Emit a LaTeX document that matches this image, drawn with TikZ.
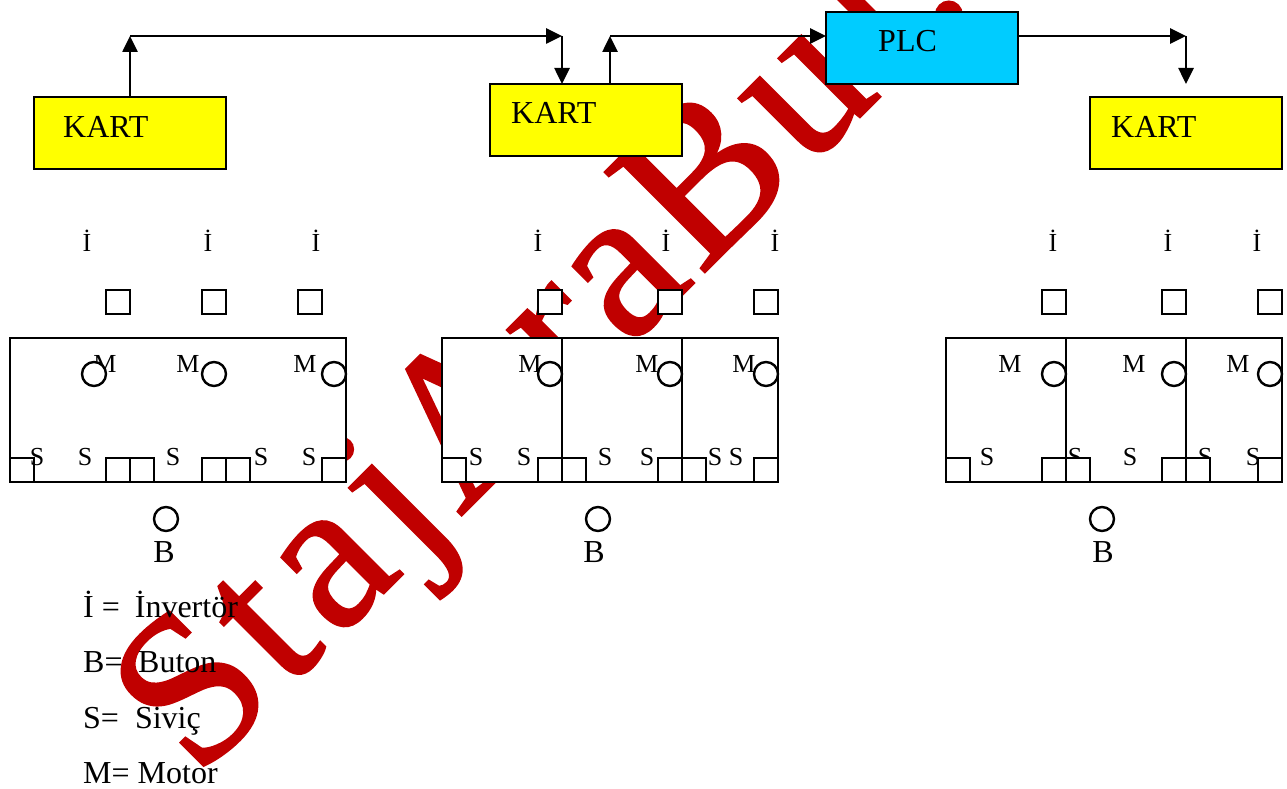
\documentclass[tikz,border=0pt]{standalone}
\usepackage{fontspec}
\setmainfont{Liberation Serif}
\newfontfamily\stampfont[Kerning=Off,FakeBold=1]{Liberation Serif}
\usetikzlibrary{arrows.meta}
\definecolor{stampred}{HTML}{C00000}
\definecolor{plcblue}{HTML}{00CCFF}
\definecolor{kartyellow}{HTML}{FFFF00}
\tikzset{
    wire/.style={line width=2.6pt, -{Triangle[length=16pt,width=15pt]}},
    cardbox/.style={draw, line width=2.6pt, fill=#1, minimum width=192pt, minimum height=72pt, inner sep=0pt, outer sep=0pt},
    panel/.style={draw, line width=2.4pt, fill=white, minimum height=144pt, inner sep=0pt, outer sep=0pt},
    sq/.style={draw, line width=2.4pt, fill=white, minimum size=24pt, inner sep=0pt, outer sep=0pt},
    disc/.style={draw, circle, line width=2.4pt, fill=white, minimum size=24pt, inner sep=0pt, outer sep=0pt},
    tag/.style={anchor=base, inner sep=0pt, font=\fontsize{26}{28}\selectfont},
    bigtag/.style={anchor=base west, inner sep=0pt, font=\fontsize{32}{34}\selectfont},
    legend/.style={anchor=base west, inner sep=0pt, font=\fontsize{32}{34}\selectfont}
}
\begin{document}
\begin{tikzpicture}[x=1pt, y=-1pt]
    \useasboundingbox (0,0) rectangle (1287,789);
    \clip (0,0) rectangle (1287,789);
    % stamp behind everything
    \node [anchor=base west, inner sep=0pt, rotate=45, text=stampred, font=\stampfont\fontsize{216}{220}\selectfont] (stamp) at (197,780) {S\kern6pt t\kern12pt a\kern12pt j\kern6pt A\kern5pt r\kern5pt a\kern6pt B\kern6pt u\kern14pt l\kern2pt .};
    % cards
    \node [cardbox=kartyellow] (kart1) at (130,133) {};
    \node [cardbox=kartyellow] (kart2) at (586,120) {};
    \node [cardbox=plcblue] (plc) at (922,48) {};
    \node [cardbox=kartyellow] (kart3) at (1186,133) {};
    \node [bigtag] (kart1txt) at (63,137) {KART};
    \node [bigtag] (kart2txt) at (511,124) {KART};
    \node [bigtag] (plctxt) at (878,52) {PLC};
    \node [bigtag] (kart3txt) at (1111,137) {KART};
    % wiring
    \coordinate (c1) at (130,36);
    \coordinate (c2) at (562,36);
    \coordinate (c3) at (562,84);
    \coordinate (c4) at (610,84);
    \coordinate (c5) at (610,36);
    \coordinate (c6) at (1186,36);
    \coordinate (c7) at (1186,84);
    \coordinate (c8) at (826,36);
    \coordinate (c9) at (1018,36);
    \draw [wire] (kart1.north) -- (c1);
    \draw [wire] (c1) -- (c2);
    \draw [wire] (c2) -- (c3);
    \draw [wire] (c4) -- (c5);
    \draw [wire] (c5) -- (c8);
    \draw [wire] (c9) -- (c6);
    \draw [wire] (c6) -- (c7);
    % inverter row
    \node [tag] (i1) at (87,251) {İ};
    \node [tag] (i2) at (208,251) {İ};
    \node [tag] (i3) at (316,251) {İ};
    \node [tag] (i4) at (538,251) {İ};
    \node [tag] (i5) at (666,251) {İ};
    \node [tag] (i6) at (775,251) {İ};
    \node [tag] (i7) at (1053,251) {İ};
    \node [tag] (i8) at (1168,251) {İ};
    \node [tag] (i9) at (1257,251) {İ};
    \node [sq] (inv1) at (118,302) {};
    \node [sq] (inv2) at (214,302) {};
    \node [sq] (inv3) at (310,302) {};
    \node [sq] (inv4) at (550,302) {};
    \node [sq] (inv5) at (670,302) {};
    \node [sq] (inv6) at (766,302) {};
    \node [sq] (inv7) at (1054,302) {};
    \node [sq] (inv8) at (1174,302) {};
    \node [sq] (inv9) at (1270,302) {};
    % first group
    \node [panel, minimum width=336pt] (pan1) at (178,410) {};
    \node [tag] (m1) at (105,372) {M};
    \node [tag] (m2) at (188,372) {M};
    \node [tag] (m3) at (305,372) {M};
    \node [disc] (mot1) at (94,374) {};
    \node [disc] (mot2) at (214,374) {};
    \node [disc] (mot3) at (334,374) {};
    \node [sq] (sw1) at (22,470) {};
    \node [sq] (sw2) at (118,470) {};
    \node [sq] (sw3) at (142,470) {};
    \node [sq] (sw4) at (214,470) {};
    \node [sq] (sw5) at (238,470) {};
    \node [sq] (sw6) at (334,470) {};
    \node [tag] (s1) at (37,465) {S};
    \node [tag] (s2) at (85,465) {S};
    \node [tag] (s3) at (173,465) {S};
    \node [tag] (s4) at (261,465) {S};
    \node [tag] (s5) at (309,465) {S};
    \node [disc] (btn1) at (166,519) {};
    \node [bigtag, anchor=base] (b1) at (164,562) {B};
    % second group
    \node [panel, minimum width=120pt] (pan2) at (502,410) {};
    \node [panel, minimum width=120pt] (pan3) at (622,410) {};
    \node [panel, minimum width=96pt] (pan4) at (730,410) {};
    \node [tag] (m4) at (530,372) {M};
    \node [tag] (m5) at (647,372) {M};
    \node [tag] (m6) at (744,372) {M};
    \node [disc] (mot4) at (550,374) {};
    \node [disc] (mot5) at (670,374) {};
    \node [disc] (mot6) at (766,374) {};
    \node [sq] (sw7) at (454,470) {};
    \node [sq] (sw8) at (550,470) {};
    \node [sq] (sw9) at (574,470) {};
    \node [sq] (sw10) at (670,470) {};
    \node [sq] (sw11) at (694,470) {};
    \node [sq] (sw12) at (766,470) {};
    \node [tag] (s6) at (476,465) {S};
    \node [tag] (s7) at (524,465) {S};
    \node [tag] (s8) at (605,465) {S};
    \node [tag] (s9) at (647,465) {S};
    \node [tag] (s10) at (715,465) {S};
    \node [tag] (s11) at (736,465) {S};
    \node [disc] (btn2) at (598,519) {};
    \node [bigtag, anchor=base] (b2) at (594,562) {B};
    % third group
    \node [panel, minimum width=120pt] (pan5) at (1006,410) {};
    \node [panel, minimum width=120pt] (pan6) at (1126,410) {};
    \node [panel, minimum width=96pt] (pan7) at (1234,410) {};
    \node [tag] (m7) at (1010,372) {M};
    \node [tag] (m8) at (1134,372) {M};
    \node [tag] (m9) at (1238,372) {M};
    \node [disc] (mot7) at (1054,374) {};
    \node [disc] (mot8) at (1174,374) {};
    \node [disc] (mot9) at (1270,374) {};
    \node [tag] (s12) at (987,465) {S};
    \node [tag] (s13) at (1075,465) {S};
    \node [tag] (s14) at (1130,465) {S};
    \node [tag] (s15) at (1205,465) {S};
    \node [tag] (s16) at (1253,465) {S};
    \node [sq] (sw13) at (958,470) {};
    \node [sq] (sw14) at (1054,470) {};
    \node [sq] (sw15) at (1078,470) {};
    \node [sq] (sw16) at (1174,470) {};
    \node [sq] (sw17) at (1198,470) {};
    \node [sq] (sw18) at (1270,470) {};
    \node [disc] (btn3) at (1102,519) {};
    \node [bigtag, anchor=base] (b3) at (1103,562) {B};
    % legend
    \node [legend] (leg1) at (83,617) {İ =\hspace{15pt}İnvertör};
    \node [legend] (leg2) at (83,672) {B=\hspace{15.6pt}Buton};
    \node [legend] (leg3) at (83,728) {S=\hspace{16pt}Siviç};
    \node [legend] (leg4) at (83,783) {M= Motor};
\end{tikzpicture}
\end{document}
